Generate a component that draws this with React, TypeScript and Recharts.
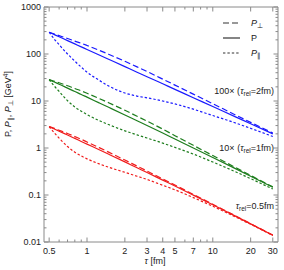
import { LineChart, Line, XAxis, YAxis } from 'recharts';

// tau grid [fm]
const TAU = [0.5, 0.55, 0.6, 0.7, 0.8, 0.9, 1, 1.25, 1.5, 2, 2.5, 3, 4, 5, 7, 10, 15, 20, 30];

// 100x, tau_rel = 2 fm
const BLUE_PERP = [290, 266, 246, 214, 188, 169, 152, 120, 97.7, 69.9, 53.3, 42.4, 29.2, 21.8, 14.0, 8.76, 5.12, 3.51, 2.08];
const BLUE_P = [290, 258, 232, 193, 164, 142, 125, 95.2, 76.3, 53.8, 41.0, 32.9, 23.2, 17.7, 11.75, 7.62, 4.65, 3.28, 2.0];
const BLUE_PAR = [290, 207, 158, 100, 70.4, 52.5, 41.2, 27.6, 20.6, 14.8, 12.7, 11.7, 10.0, 8.67, 6.7, 4.91, 3.44, 2.62, 1.76];

// 10x, tau_rel = 1 fm
const GREEN_PERP = [28.5, 26.3, 24.4, 21.1, 18.4, 16.4, 14.6, 11.3, 9.06, 6.35, 4.74, 3.73, 2.52, 1.83, 1.14, 0.69, 0.39, 0.261, 0.149];
const GREEN_P = [28.5, 25.3, 22.8, 18.8, 15.9, 13.8, 12.07, 9.12, 7.25, 5.04, 3.79, 3.01, 2.08, 1.555, 1.004, 0.629, 0.368, 0.251, 0.146];
const GREEN_PAR = [28.5, 20.7, 16.0, 10.15, 7.47, 6.07, 5.13, 3.83, 3.12, 2.32, 1.9, 1.63, 1.27, 1.03, 0.743, 0.503, 0.316, 0.223, 0.134];

// tau_rel = 0.5 fm
const RED_PERP = [2.85, 2.61, 2.39, 2.04, 1.75, 1.53, 1.345, 1.018, 0.806, 0.554, 0.412, 0.324, 0.219, 0.163, 0.103, 0.0635, 0.0364, 0.0245, 0.014];
const RED_P = [2.85, 2.54, 2.28, 1.89, 1.6, 1.38, 1.21, 0.917, 0.729, 0.506, 0.38, 0.301, 0.207, 0.155, 0.0995, 0.0619, 0.0359, 0.0243, 0.0139];
const RED_PAR = [2.85, 2.1, 1.62, 1.075, 0.816, 0.677, 0.588, 0.459, 0.386, 0.304, 0.251, 0.214, 0.161, 0.129, 0.088, 0.0576, 0.0346, 0.0238, 0.0138];

const X_LABELS = [0.5, 1, 2, 3, 4, 5, 7, 10, 20, 30];
const X_TICKS = [0.5, 0.6, 0.7, 0.8, 0.9, 1, 2, 3, 4, 5, 6, 7, 8, 9, 10, 20, 30];
const Y_LABELS = [0.01, 0.1, 1, 10, 100, 1000];
const Y_TICKS = [
  ...[0.01, 0.1, 1, 10, 100].flatMap((d) => [1, 2, 3, 4, 5, 6, 7, 8, 9].map((m) => +(d * m).toPrecision(3))),
  1000,
];

const data = TAU.map((tau, i) => ({
  tau,
  bPerp: BLUE_PERP[i],
  bP: BLUE_P[i],
  bPar: BLUE_PAR[i],
  gPerp: GREEN_PERP[i],
  gP: GREEN_P[i],
  gPar: GREEN_PAR[i],
  rPerp: RED_PERP[i],
  rP: RED_P[i],
  rPar: RED_PAR[i],
}));

const FRAME = '#8a8a8a';
const TEXT = '#222';
const FONT = '"Liberation Sans", Arial, sans-serif';
const BLUE = '#1a1aff';
const GREEN = '#1d7d1d';
const RED = '#f01c1c';
const DASH = '6 3';
const DOT = '2.4 2';

const BottomTick = ({ x, y, payload }: any) => {
  const major = X_LABELS.includes(payload.value);
  return (
    <g>
      <line x1={x} x2={x} y1={y} y2={y - (major ? 4.5 : 2.5)} stroke={FRAME} />
      {major && (
        <text x={x} y={y + 12} textAnchor="middle" fontSize={9} fill={TEXT} fontFamily={FONT}>
          {payload.value}
        </text>
      )}
    </g>
  );
};

const TopTick = ({ x, y, payload }: any) => {
  const major = X_LABELS.includes(payload.value);
  return <line x1={x} x2={x} y1={y} y2={y + (major ? 4.5 : 2.5)} stroke={FRAME} />;
};

const LeftTick = ({ x, y, payload }: any) => {
  const major = Y_LABELS.includes(payload.value);
  return (
    <g>
      <line x1={x} x2={x + (major ? 4.5 : 2.5)} y1={y} y2={y} stroke={FRAME} />
      {major && (
        <text x={x - 3} y={y + 3} textAnchor="end" fontSize={9} fill={TEXT} fontFamily={FONT}>
          {payload.value}
        </text>
      )}
    </g>
  );
};

const RightTick = ({ x, y, payload }: any) => {
  const major = Y_LABELS.includes(payload.value);
  return <line x1={x} x2={x - (major ? 4.5 : 2.5)} y1={y} y2={y} stroke={FRAME} />;
};

const Note = ({ y, pre, rest }: { y: number; pre: string; rest: string }) => (
  <text x={274} y={y} textAnchor="end" fontSize={9} fill={TEXT} fontFamily={FONT}>
    {pre}
    <tspan fontStyle="italic">τ</tspan>
    <tspan fontSize={6.5} dy={2}>rel</tspan>
    <tspan dy={-2}>{rest}</tspan>
  </text>
);

export default function App() {
  return (
    <div style={{ position: 'absolute', left: 0, top: 0, width: 284, height: 270 }}>
      <LineChart width={284} height={270} data={data} margin={{ top: 0, right: 0, bottom: 0, left: 0 }}>
        <XAxis
          dataKey="tau"
          type="number"
          scale="log"
          domain={[0.455, 33]}
          allowDataOverflow
          ticks={X_TICKS}
          interval={0}
          height={28}
          tickSize={0}
          tickMargin={0}
          tickLine={false}
          tick={<BottomTick />}
          axisLine={{ stroke: FRAME }}
        />
        <XAxis
          xAxisId="top"
          orientation="top"
          dataKey="tau"
          type="number"
          scale="log"
          domain={[0.455, 33]}
          allowDataOverflow
          ticks={X_TICKS}
          interval={0}
          height={7}
          tickSize={0}
          tickMargin={0}
          tickLine={false}
          tick={<TopTick />}
          axisLine={{ stroke: FRAME }}
        />
        <YAxis
          type="number"
          scale="log"
          domain={[0.01, 1000]}
          allowDataOverflow
          ticks={Y_TICKS}
          interval={0}
          width={44}
          tickSize={0}
          tickMargin={0}
          tickLine={false}
          tick={<LeftTick />}
          axisLine={{ stroke: FRAME }}
        />
        <YAxis
          yAxisId="right"
          orientation="right"
          type="number"
          scale="log"
          domain={[0.01, 1000]}
          allowDataOverflow
          ticks={Y_TICKS}
          interval={0}
          width={6}
          tickSize={0}
          tickMargin={0}
          tickLine={false}
          tick={<RightTick />}
          axisLine={{ stroke: FRAME }}
        />
        <Line dataKey="bPerp" type="monotone" stroke={BLUE} strokeWidth={1.2} strokeDasharray={DASH} dot={false} isAnimationActive={false} />
        <Line dataKey="bP" type="monotone" stroke={BLUE} strokeWidth={1.2} dot={false} isAnimationActive={false} />
        <Line dataKey="bPar" type="monotone" stroke={BLUE} strokeWidth={1.2} strokeDasharray={DOT} dot={false} isAnimationActive={false} />
        <Line dataKey="gPerp" type="monotone" stroke={GREEN} strokeWidth={1.2} strokeDasharray={DASH} dot={false} isAnimationActive={false} />
        <Line dataKey="gP" type="monotone" stroke={GREEN} strokeWidth={1.2} dot={false} isAnimationActive={false} />
        <Line dataKey="gPar" type="monotone" stroke={GREEN} strokeWidth={1.2} strokeDasharray={DOT} dot={false} isAnimationActive={false} />
        <Line dataKey="rPerp" type="monotone" stroke={RED} strokeWidth={1.2} strokeDasharray={DASH} dot={false} isAnimationActive={false} />
        <Line dataKey="rP" type="monotone" stroke={RED} strokeWidth={1.2} dot={false} isAnimationActive={false} />
        <Line dataKey="rPar" type="monotone" stroke={RED} strokeWidth={1.2} strokeDasharray={DOT} dot={false} isAnimationActive={false} />
      </LineChart>
      <svg
        width={284}
        height={270}
        style={{ position: 'absolute', left: 0, top: 0, pointerEvents: 'none' }}
      >
        {/* legend */}
        <line x1={223} x2={240} y1={23} y2={23} stroke="#333" strokeWidth={1.2} strokeDasharray={DASH} />
        <text x={251} y={26} fontSize={9} fill={TEXT} fontFamily={FONT} fontStyle="italic">
          P<tspan fontSize={6.5} dy={2} fontStyle="normal">⊥</tspan>
        </text>
        <line x1={223} x2={240} y1={38} y2={38} stroke="#333" strokeWidth={1.2} />
        <text x={251} y={41} fontSize={9} fill={TEXT} fontFamily={FONT}>P</text>
        <line x1={223} x2={240} y1={53} y2={53} stroke="#333" strokeWidth={1.2} strokeDasharray={DOT} />
        <text x={251} y={56} fontSize={9} fill={TEXT} fontFamily={FONT} fontStyle="italic">
          P<tspan fontSize={6.5} dy={2} fontStyle="normal">∥</tspan>
        </text>

        <Note y={94} pre="100× (" rest="=2fm)" />
        <Note y={151} pre="10× (" rest="=1fm)" />
        <Note y={209} pre="" rest="=0.5fm" />

        {/* axis titles */}
        <text x={155} y={264} textAnchor="middle" fontSize={9} fill={TEXT} fontFamily={FONT}>
          <tspan fontStyle="italic">τ</tspan> [fm]
        </text>
        <text
          transform="translate(11,104) rotate(-90)"
          textAnchor="middle"
          fontSize={9}
          fill={TEXT}
          fontFamily={FONT}
        >
          P, <tspan fontStyle="italic">P</tspan>
          <tspan fontSize={6.5} dy={2}>∥</tspan>
          <tspan dy={-2}>, </tspan>
          <tspan fontStyle="italic">P</tspan>
          <tspan fontSize={6.5} dy={2}>⊥</tspan>
          <tspan dy={-2}> [GeV</tspan>
          <tspan fontSize={6.5} dy={-3}>4</tspan>
          <tspan dy={3}>]</tspan>
        </text>
      </svg>
    </div>
  );
}
